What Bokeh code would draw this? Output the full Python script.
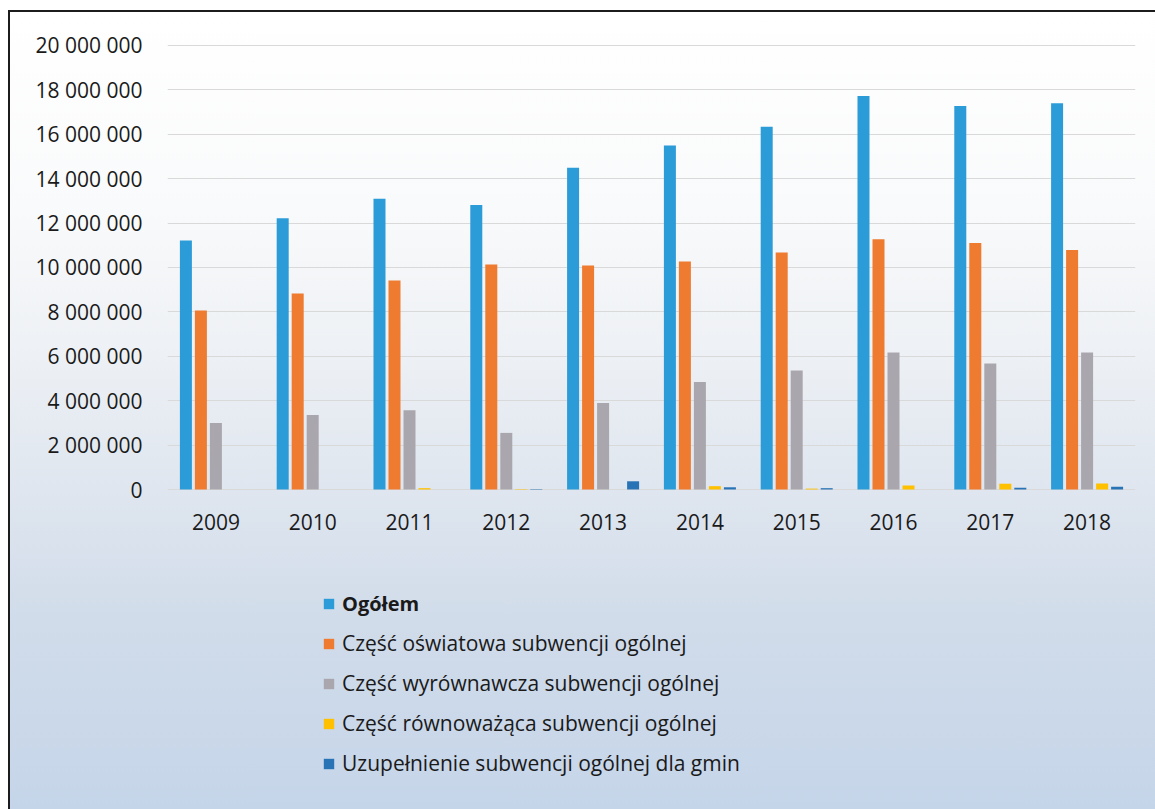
from bokeh.plotting import figure
from bokeh.models import ColumnDataSource, FactorRange, Range1d, FixedTicker, Legend, LegendItem
from bokeh.transform import dodge
from bokeh.embed import file_html
from bokeh.resources import INLINE

# ---- data (values in PLN) ----
years = ["2009", "2010", "2011", "2012", "2013", "2014", "2015", "2016", "2017", "2018"]
ogolem = [11220000, 12220000, 13100000, 12820000, 14490000, 15500000, 16340000, 17730000, 17270000, 17400000]
oswiatowa = [8060000, 8830000, 9410000, 10140000, 10090000, 10270000, 10670000, 11270000, 11100000, 10790000]
wyrownawcza = [3000000, 3360000, 3570000, 2550000, 3900000, 4840000, 5360000, 6170000, 5680000, 6170000]
rownowazaca = [0, 0, 60000, 20000, 0, 150000, 40000, 180000, 260000, 270000]
uzupelnienie = [0, 0, 0, 20000, 370000, 100000, 60000, 0, 80000, 120000]

series_labels = [
    "Ogółem",
    "Część oświatowa subwencji ogólnej",
    "Część wyrównawcza subwencji ogólnej",
    "Część równoważąca subwencji ogólnej",
    "Uzupełnienie subwencji ogólnej dla gmin",
]
series_keys = ["ogolem", "oswiatowa", "wyrownawcza", "rownowazaca", "uzupelnienie"]
series_colors = ["#2b9cd8", "#ee7b30", "#a9a7ad", "#ffc000", "#2873b5"]

y_ticks = list(range(0, 20_000_001, 2_000_000))
y_tick_labels = [f"{t:,}".replace(",", " ") for t in y_ticks]

source = ColumnDataSource(dict(
    year=years, ogolem=ogolem, oswiatowa=oswiatowa, wyrownawcza=wyrownawcza,
    rownowazaca=rownowazaca, uzupelnienie=uzupelnienie,
))

FONT = "Open Sans"

p = figure(
    width=1155, height=809,
    x_range=FactorRange(factors=years, range_padding=0),
    y_range=Range1d(-14.414e6, 20.495e6),
    output_backend="svg", toolbar_location=None,
    min_border_left=167, min_border_right=20, min_border_top=34, min_border_bottom=0,
)
p.border_fill_color = None
p.background_fill_color = None
p.outline_line_color = None
p.styles = {
    "background": (
        "linear-gradient(#1c1c1c,#1c1c1c) 8px 10px / calc(100% - 8px) 2px no-repeat, "
        "linear-gradient(#1c1c1c,#1c1c1c) 8px 10px / 2px 100% no-repeat, "
        "linear-gradient(to bottom, #ffffff 0%, #f9fafb 25%, #eef1f5 42%, "
        "#dfe6ef 60%, #d1dcea 76%, #c5d5e9 100%) 8px 10px / calc(100% - 8px) calc(100% - 10px) no-repeat"
    )
}

offsets = [-0.31, -0.155, 0.0, 0.155, 0.31]
renderers = []
for key, color, off in zip(series_keys, series_colors, offsets):
    r = p.vbar(x=dodge("year", off, range=p.x_range), top=key, width=0.124,
               source=source, fill_color=color, line_color=None)
    renderers.append(r)

# grid
p.xgrid.visible = False
p.ygrid.ticker = FixedTicker(ticks=y_ticks)
p.ygrid.grid_line_color = "#d9d9d9"
p.ygrid.grid_line_width = 1

# y axis
p.yaxis.ticker = FixedTicker(ticks=y_ticks)
p.yaxis.major_label_overrides = dict(zip(y_ticks, y_tick_labels))
p.yaxis.axis_line_color = None
p.yaxis.major_tick_line_color = None
p.yaxis.minor_tick_line_color = None
p.yaxis.major_label_standoff = 19
p.yaxis.major_label_text_font = FONT
p.yaxis.major_label_text_font_size = "21px"
p.yaxis.major_label_text_color = "#1a1a1a"

# x axis at zero
p.xaxis.fixed_location = 0
p.xaxis.axis_line_color = None
p.xaxis.major_tick_line_color = None
p.xaxis.minor_tick_line_color = None
p.xaxis.major_label_standoff = 18
p.xaxis.major_label_text_font = FONT
p.xaxis.major_label_text_font_size = "21px"
p.xaxis.major_label_text_color = "#1a1a1a"

common = dict(
    background_fill_alpha=0, border_line_color=None, padding=0, margin=0,
    glyph_width=13, glyph_height=13, label_standoff=7,
    label_text_font=FONT, label_text_font_size="21px", label_text_color="#1a1a1a",
    spacing=12,
)
leg1 = Legend(items=[LegendItem(label=series_labels[0], renderers=[renderers[0]])],
              location=(155, 192), label_text_font_style="bold",
              **{**common, "label_text_font_size": "20px"})
leg2 = Legend(items=[LegendItem(label=lab, renderers=[r]) for lab, r in zip(series_labels[1:], renderers[1:])],
              location=(155, 32), **common)
p.add_layout(leg1)
p.add_layout(leg2)

open("out.html", "w").write(file_html(p, INLINE))
